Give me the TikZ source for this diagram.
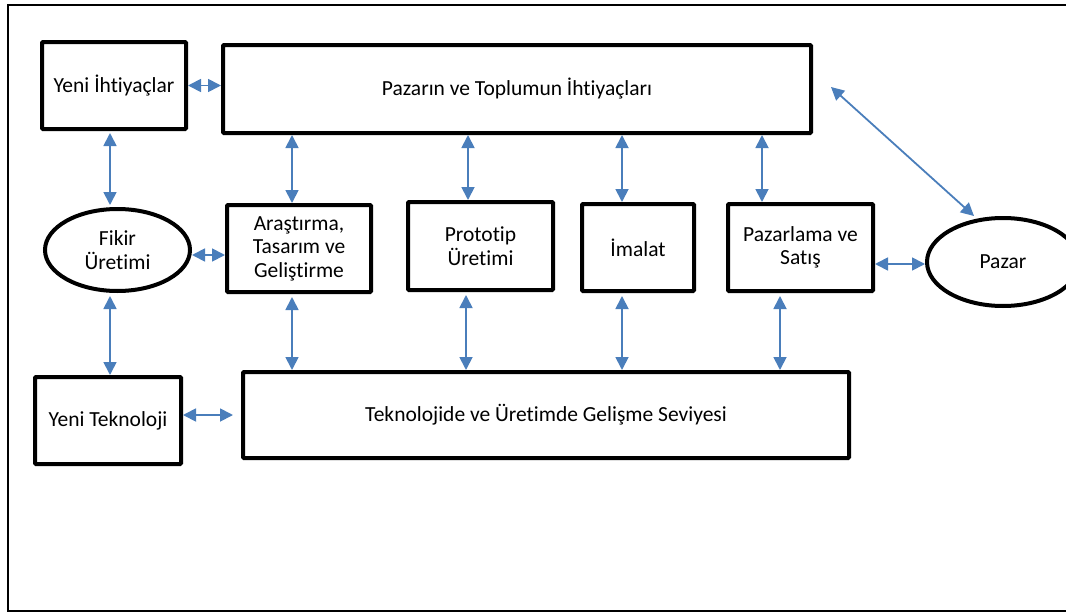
\documentclass[tikz,border=0pt]{standalone}
\usepackage{fontspec}
\setmainfont[Ligatures=NoCommon]{Carlito}
\usepackage{xcolor}
\usetikzlibrary{shapes,arrows.meta,positioning,calc}
\definecolor{linkblue}{HTML}{4A7EBB}

\begin{document}
\begin{tikzpicture}[x=1pt,y=-1pt,
        box/.style={draw, line width=4pt, rounded corners=1pt, inner sep=0pt, align=center, font=\fontsize{21.5}{23.5}\selectfont},
        oval/.style={box, ellipse},
        link/.style={linkblue, line width=1.8pt, {Triangle[length=13pt,width=13pt]}-{Triangle[length=13pt,width=13pt]}}]
        \useasboundingbox (0,0) rectangle (1066,613);
        \clip (0,0) rectangle (1066,613);
        \draw[line width=1.3pt] (8,5) rectangle (1080,611);
        % Top row
        \node[box, minimum width=144pt, minimum height=87pt] (yeni) at (114,85.5) {Yeni İhtiyaçlar};
        \node[box, minimum width=588pt, minimum height=88pt] (pazarin) at (517,89) {Pazarın ve Toplumun İhtiyaçları};
        % Middle row
        \node[oval, minimum width=145pt, minimum height=82pt] (fikir) at (117.5,250) {Fikir\\Üretimi};
        \node[box, minimum width=144pt, minimum height=87pt] (arastirma) at (299,248.5) {Araştırma,\\Tasarım ve\\Geliştirme};
        \node[box, minimum width=145pt, minimum height=88pt] (prototip) at (480.5,246) {Prototip\\Üretimi};
        \node[box, minimum width=112pt, minimum height=87pt] (imalat) at (638,247.5) {İmalat};
        \node[box, minimum width=145pt, minimum height=87pt] (pazarlama) at (800.5,247.5) {Pazarlama ve\\Satış};
        \node[oval, minimum width=152pt, minimum height=88pt] (pazar) at (1003,262) {Pazar};
        % Bottom row
        \node[box, minimum width=146pt, minimum height=87pt] (yenitek) at (108,420.5) {Yeni Teknoloji};
        \node[box, minimum width=606pt, minimum height=86pt] (teknoloji) at (546,415) {Teknolojide ve Üretimde Gelişme Seviyesi};

        % Links
        \draw[link] (yeni.east) -- (yeni.east -| pazarin.west);
        \draw[link, shorten >=2pt, shorten <=2pt] (yeni.south -| 110,0) -- (fikir.north -| 110,0);
        \draw[link, shorten <=3pt] (fikir.south -| 110,0) -- (yenitek.north -| 110,0);
        \draw[link] (fikir.east |- 0,255) -- (arastirma.west |- 0,255);
        \draw[link, shorten >=8pt] (yenitek.east |- 0,415) -- (teknoloji.west |- 0,415);
        \draw[link] (pazarlama.east |- 0,264) -- (pazar.west |- 0,264);
        \draw[link] ($(pazarin.east)+(18,-2)$) -- ($(pazar.north)+(-29,0)$);
        \foreach \n/\xa/\xb in {arastirma/292/292, prototip/468/466, imalat/622/622, pazarlama/762/780} {
            \draw[link] (\n.north -| \xa,0) -- (pazarin.south -| \xa,0);
            \draw[link, shorten <=3pt] (\n.south -| \xb,0) -- (teknoloji.north -| \xb,0);
        }
    \end{tikzpicture}
\end{document}
